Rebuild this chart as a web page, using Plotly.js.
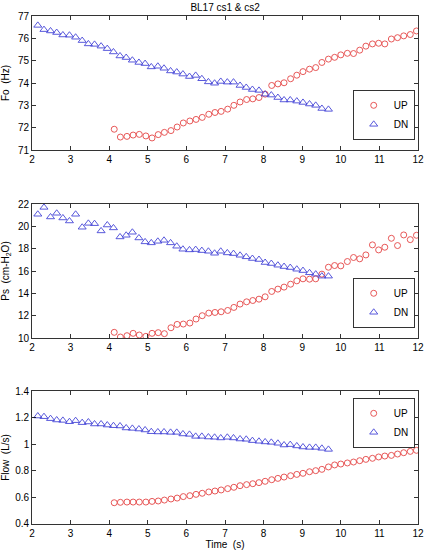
<!DOCTYPE html>
<html>
<head>
<meta charset="utf-8">
<script src="https://cdn.plot.ly/plotly-3.0.1.min.js"></script>
<style>html,body{margin:0;padding:0;background:#fff;}#chart{width:424px;height:551px;}</style>
</head>
<body>
<div id="chart"></div>
<script>
// Time stamps (s)
var timeDN = [2.15,2.31,2.48,2.64,2.80,2.97,3.13,3.30,3.46,3.62,3.79,3.95,4.11,4.28,4.44,4.60,4.77,4.93,5.09,5.26,5.42,5.59,5.75,5.91,6.08,6.24,6.40,6.57,6.73,6.89,7.06,7.22,7.39,7.55,7.71,7.88,8.04,8.20,8.37,8.53,8.69,8.86,9.02,9.19,9.35,9.51,9.68];
var timeUP = [4.13,4.29,4.46,4.62,4.78,4.95,5.11,5.27,5.43,5.60,5.76,5.92,6.09,6.25,6.41,6.58,6.74,6.90,7.07,7.23,7.39,7.56,7.72,7.88,8.04,8.21,8.37,8.53,8.70,8.86,9.02,9.19,9.35,9.51,9.68,9.84,10.00,10.17,10.33,10.49,10.65,10.82,10.98,11.14,11.31,11.47,11.63,11.80,11.96];

// Fo (Hz)
var foUP = [71.93,71.58,71.61,71.67,71.70,71.63,71.54,71.69,71.79,71.87,72.03,72.21,72.30,72.37,72.46,72.60,72.68,72.73,72.83,73.00,73.15,73.26,73.29,73.35,73.50,73.89,73.96,74.01,74.19,74.35,74.51,74.62,74.69,74.92,75.07,75.15,75.26,75.33,75.32,75.47,75.65,75.75,75.78,75.75,75.97,76.03,76.11,76.17,76.33];
var foDN = [76.58,76.39,76.33,76.26,76.15,76.14,76.05,75.90,75.75,75.73,75.65,75.54,75.39,75.21,75.14,75.02,74.92,74.87,74.72,74.75,74.66,74.54,74.49,74.40,74.29,74.34,74.19,74.05,73.99,74.07,74.04,74.04,73.89,73.80,73.71,73.67,73.50,73.46,73.35,73.24,73.24,73.19,73.13,73.06,73.00,72.86,72.82];

// Ps (cm-H2O)
var psUP = [10.51,10.09,10.21,10.42,10.27,10.15,10.42,10.48,10.39,10.92,11.22,11.25,11.34,11.70,12.00,12.23,12.29,12.35,12.47,12.74,13.04,13.24,13.36,13.48,13.69,14.17,14.38,14.56,14.82,15.12,15.30,15.27,15.30,15.72,16.34,16.49,16.46,16.85,17.21,17.09,17.44,18.34,17.89,18.13,18.93,18.28,19.23,18.81,19.20];
var psDN = [21.08,21.70,20.84,21.17,20.75,20.48,21.08,19.92,20.27,20.24,19.59,20.12,19.86,19.05,19.20,19.47,18.96,18.61,18.52,18.66,18.75,18.52,18.22,17.95,17.89,17.92,17.83,17.77,17.59,17.77,17.62,17.56,17.41,17.27,17.12,17.03,16.76,16.67,16.52,16.40,16.31,16.16,16.04,15.84,15.72,15.54,15.54];

// Flow (L/s)
var flowUP = [0.560,0.563,0.565,0.565,0.565,0.565,0.570,0.573,0.580,0.588,0.595,0.606,0.613,0.623,0.631,0.641,0.648,0.656,0.666,0.676,0.688,0.696,0.703,0.711,0.721,0.733,0.743,0.753,0.763,0.773,0.781,0.793,0.801,0.811,0.829,0.844,0.851,0.859,0.866,0.876,0.886,0.894,0.904,0.911,0.916,0.926,0.936,0.946,0.954];
var flowDN = [1.212,1.207,1.192,1.182,1.179,1.169,1.177,1.162,1.167,1.152,1.152,1.144,1.139,1.137,1.122,1.119,1.114,1.107,1.094,1.092,1.092,1.089,1.089,1.077,1.074,1.059,1.059,1.054,1.052,1.047,1.052,1.047,1.039,1.037,1.027,1.022,1.017,1.014,1.007,0.994,0.997,0.987,0.979,0.976,0.976,0.969,0.961];

var seriesNames = ['UP', 'DN'];
var chartTitle = 'BL17 cs1 & cs2';
var yTitles = ['Fo\u00A0\u00A0(Hz)', 'Ps\u00A0\u00A0(cm-H<sub>2</sub>O)', 'Flow\u00A0\u00A0(L/s)'];
var xTitle = 'Time\u00A0\u00A0(s)';

var RED = 'rgb(228,70,70)';
var BLUE = 'rgb(70,70,215)';
var FONT = 'Liberation Sans, Arial, Helvetica, sans-serif';

function up(x, y, xa, ya, lg) {
  return {x: x, y: y, xaxis: xa, yaxis: ya, legend: lg, name: seriesNames[0],
    type: 'scatter', mode: 'markers',
    marker: {symbol: 'circle-open', size: 6, color: RED, line: {width: 0.9, color: RED}}};
}
function dn(x, y, xa, ya, lg) {
  return {x: x, y: y, xaxis: xa, yaxis: ya, legend: lg, name: seriesNames[1],
    type: 'scatter', mode: 'markers',
    marker: {symbol: 'triangle-up-open', size: 7, color: BLUE, line: {width: 0.9, color: BLUE}}};
}

var data = [
  up(timeUP, foUP, 'x', 'y', 'legend'), dn(timeDN, foDN, 'x', 'y', 'legend'),
  up(timeUP, psUP, 'x2', 'y2', 'legend2'), dn(timeDN, psDN, 'x2', 'y2', 'legend2'),
  up(timeUP, flowUP, 'x3', 'y3', 'legend3'), dn(timeDN, flowDN, 'x3', 'y3', 'legend3')
];

function xax(anchor, withTitle) {
  var a = {domain: [0, 1], anchor: anchor, range: [2, 12], tick0: 2, dtick: 1,
    ticks: 'inside', ticklen: 4, tickcolor: '#000', tickwidth: 0.8,
    showline: true, linecolor: '#000', linewidth: 0.8, mirror: 'ticks',
    showgrid: false, zeroline: false, tickfont: {size: 10, color: '#000', family: FONT}};
  if (withTitle) a.title = {text: xTitle, font: {size: 10, color: '#000', family: FONT}, standoff: 2};
  return a;
}
function yax(anchor, dom, rng, d, title) {
  return {domain: dom, anchor: anchor, range: rng, dtick: d, tick0: rng[0],
    ticks: 'inside', ticklen: 4, tickcolor: '#000', tickwidth: 0.8,
    showline: true, linecolor: '#000', linewidth: 0.8, mirror: 'ticks',
    showgrid: false, zeroline: false, tickfont: {size: 10, color: '#000', family: FONT},
    title: {text: title, font: {size: 10, color: '#000', family: FONT}, standoff: 6}};
}

var legStyle = function (y) {
  return {x: 0.992, xanchor: 'right', y: y, yanchor: 'top', bgcolor: '#fff',
    bordercolor: '#000', borderwidth: 0.8, font: {size: 10, color: '#000', family: FONT},
    tracegroupgap: 0, itemwidth: 30};
};

var layout = {
  width: 424, height: 551,
  margin: {l: 32, r: 6, t: 16, b: 27},
  paper_bgcolor: '#fff', plot_bgcolor: '#fff',
  font: {family: FONT, size: 10, color: '#000'},
  title: {text: chartTitle, font: {size: 10, color: '#000', family: FONT}, x: 0.531, xanchor: 'center', y: 0.986, yanchor: 'middle', yref: 'container'},
  showlegend: true,
  xaxis: xax('y', false),
  xaxis2: xax('y2', false),
  xaxis3: xax('y3', true),
  yaxis: yax('x', [0.7362, 1], [71, 77], 1, yTitles[0]),
  yaxis2: yax('x2', [0.3661, 0.6299], [10, 22], 2, yTitles[1]),
  yaxis3: yax('x3', [0, 0.2618], [0.4, 1.4], 0.2, yTitles[2]),
  legend: legStyle(0.8543),
  legend2: legStyle(0.4843),
  legend3: legStyle(0.248)
};

Plotly.newPlot('chart', data, layout, {displayModeBar: false, staticPlot: true});
</script>
</body>
</html>
